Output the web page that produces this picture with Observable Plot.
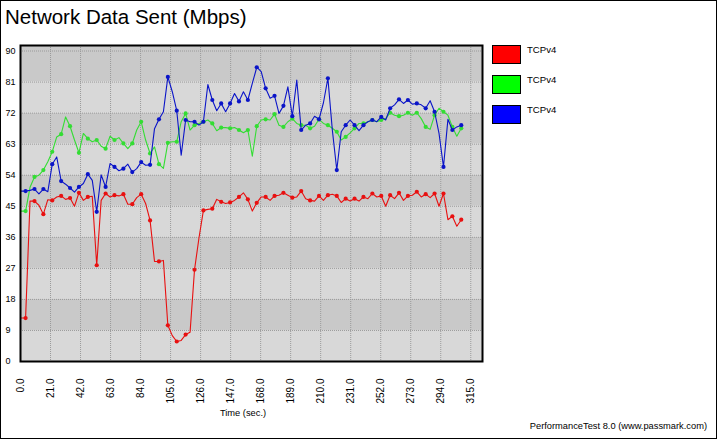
<!DOCTYPE html>
<html>
<head>
<meta charset="utf-8">
<script src="https://cdn.jsdelivr.net/npm/d3@7"></script>
<script src="https://cdn.jsdelivr.net/npm/@observablehq/plot@0.6"></script>
<style>
  html, body { margin: 0; padding: 0; background: #fff; }
  #chart { position: relative; width: 717px; height: 439px; overflow: hidden;
           font-family: "Liberation Sans", Arial, sans-serif; color: #000; background: #fff; }
  #chart svg { position: absolute; left: 0; top: 0; }
  .abs { position: absolute; white-space: nowrap; }
  #title { left: 5px; top: 7px; font-size: 20.5px; line-height: 20px; }
  #xlabel { left: 243px; top: 408px; font-size: 9.3px; line-height: 10px; transform: translateX(-50%); }
  #caption { right: 10px; top: 421px; font-size: 9.3px; line-height: 10px; }
  .swatch { position: absolute; left: 492px; width: 27px; height: 17px; border: 1px solid #000; }
  .legtext { position: absolute; left: 527px; font-size: 9.6px; line-height: 10px; }
  #border { position: absolute; left: 0; top: 0; width: 717px; height: 439px; box-sizing: border-box;
            border: 1px solid #000; pointer-events: none; }
</style>
</head>
<body>
<div id="chart"></div>
<script>
// ---- data ----
const titleText = "Network Data Sent (Mbps)";
const xLabelText = "Time (sec.)";
const captionText = "PerformanceTest 8.0 (www.passmark.com)";
const seriesNames = ["TCPv4", "TCPv4", "TCPv4"];
const legendColors = ["#ff0000", "#00ff00", "#0000ff"];
const lineColors = ["#e81010", "#33dd33", "#0a14c8"];

const xTicks = [0, 21, 42, 63, 84, 105, 126, 147, 168, 189, 210, 231, 252, 273, 294, 315];
const yTicks = [0, 9, 18, 27, 36, 45, 54, 63, 72, 81, 90];
const xMax = 323.2;
const yMax = 91.6;

// samples taken at a regular interval (seconds)
const sampleStart = 0.45;
const sampleInterval = 3.11;

const redValues = [
  12.6,12.6,46.5,46.5,45.3,42.7,46.9,46.7,47.7,48.0,
  47.0,47.4,45.0,48.9,46.7,47.7,47.9,27.9,46.7,48.7,
  47.7,48.2,48.0,48.5,45.6,45.6,47.5,48.5,45.8,40.9,
  29.0,29.0,29.3,10.5,7.5,5.8,6.1,7.8,8.5,26.6,
  35.8,43.8,44.1,44.3,47.0,46.3,45.8,46.1,46.7,47.7,
  48.9,47.0,43.6,46.0,47.7,47.7,46.7,48.0,48.2,48.9,
  48.2,47.5,47.7,49.4,47.2,46.7,46.5,48.0,46.7,48.2,
  48.5,48.0,46.1,47.2,46.5,47.2,46.5,47.7,47.2,48.7,
  47.7,48.0,45.0,48.2,47.2,48.9,46.7,48.0,48.2,49.2,
  47.7,48.5,47.5,48.7,45.0,48.7,41.1,42.1,39.2,41.1
];
const greenValues = [
  43.6,43.6,50.5,53.5,54.0,55.5,57.9,60.8,65.1,65.9,
  70.9,68.2,64.2,60.5,66.1,64.6,63.7,64.2,62.4,61.7,
  65.3,64.2,64.9,63.2,61.7,63.2,67.1,69.5,64.2,60.3,
  62.2,57.2,56.0,63.4,63.7,63.7,69.5,71.9,67.1,68.5,
  69.0,69.5,70.0,69.0,66.9,67.8,67.8,67.6,67.8,67.1,
  66.3,67.1,59.5,68.2,70.0,70.2,70.0,71.7,68.5,68.0,
  69.5,70.4,69.0,68.5,68.5,67.6,68.2,70.2,69.0,68.5,
  67.6,66.6,64.2,65.1,66.3,67.6,69.0,69.0,69.5,70.0,
  69.5,70.0,70.4,72.1,71.4,71.1,71.4,72.1,71.4,72.1,
  70.4,68.0,67.3,71.4,73.4,72.4,71.4,68.0,65.3,67.6
];
const blueValues = [
  49.4,49.4,49.6,50.0,48.6,50.0,49.2,57.2,59.3,52.3,
  51.4,50.3,49.1,50.6,51.6,54.3,52.5,43.4,54.1,50.6,
  57.4,56.4,55.3,55.9,57.2,54.9,55.9,57.8,56.9,57.0,
  67.5,70.2,72.4,82.5,78.2,72.7,59.8,70.0,69.5,69.5,
  68.5,69.5,80.3,75.8,72.7,74.8,72.4,74.8,77.7,75.4,
  78.2,75.8,80.6,85.3,84.0,79.2,76.3,77.0,71.9,74.1,
  79.6,71.1,81.6,67.1,68.5,69.0,71.1,70.2,75.0,82.1,
  67.1,55.5,66.6,68.5,70.0,68.5,66.9,68.5,69.5,70.0,
  69.5,70.9,70.0,73.4,74.4,76.0,74.8,75.8,74.6,74.8,
  74.4,73.4,75.6,72.4,66.1,56.4,70.2,67.1,68.0,68.5
];

// ---- build ----
const toRows = vals => vals.map((v, i) => ({t: sampleStart + i * sampleInterval, v, i}));
const series = [redValues, greenValues, blueValues].map(toRows);

const bandEdges = [...yTicks.slice(0, -1), yTicks[yTicks.length - 1] - 9 + 9]; // 0..81 starts
const bands = yTicks.slice(0, 10).map((y, k) => ({y1: y, y2: k === 9 ? yMax : yTicks[k + 1], dark: k % 2 === 1}));
const darkFill = "#c9c9c9";
const lightFill = "#d8d8d8";

const fontFamily = '"Liberation Sans", Arial, sans-serif';

const lineMarks = [];
series.forEach((rows, s) => {
  lineMarks.push(Plot.line(rows, {x: "t", y: "v", stroke: lineColors[s], strokeWidth: 1.1}));
  lineMarks.push(Plot.dot(rows.filter(d => d.i % 2 === 1), {x: "t", y: "v", r: 2.1, fill: lineColors[s], stroke: "none"}));
});

const chart = Plot.plot({
  width: 717,
  height: 439,
  marginLeft: 20,
  marginTop: 45,
  marginRight: 235,
  marginBottom: 78,
  style: {fontFamily, fontSize: "9px", color: "#000", background: "transparent", overflow: "visible"},
  x: {domain: [0, xMax]},
  y: {domain: [0, yMax]},
  marks: [
    Plot.rect(bands.filter(d => !d.dark), {x1: () => 0, x2: () => xMax, y1: "y1", y2: "y2", fill: lightFill}),
    Plot.rect(bands.filter(d => d.dark), {x1: () => 0, x2: () => xMax, y1: "y1", y2: "y2", fill: darkFill}),
    Plot.gridY(yTicks, {stroke: "#9a9a9a", strokeOpacity: 1, strokeDasharray: "1,1"}),
    Plot.gridX(xTicks, {stroke: "#9a9a9a", strokeOpacity: 1, strokeDasharray: "1,1"}),
    ...lineMarks,
    Plot.frame({stroke: "#000", strokeWidth: 2}),
    Plot.axisY(yTicks, {tickSize: 0, tickPadding: 15, textAnchor: "start", fontSize: 9, label: null, fill: "#000"}),
    Plot.axisX(xTicks, {tickSize: 0, tickPadding: 17, tickRotate: -90, fontSize: 10, label: null,
                        tickFormat: d => d.toFixed(1), fill: "#000"})
  ]
});

const root = document.getElementById("chart");
root.appendChild(chart);

function addDiv(cls, id, text, style) {
  const el = document.createElement("div");
  if (cls) el.className = cls;
  if (id) el.id = id;
  if (text != null) el.textContent = text;
  if (style) Object.assign(el.style, style);
  root.appendChild(el);
  return el;
}
addDiv("abs", "title", titleText);
addDiv("abs", "xlabel", xLabelText);
addDiv("abs", "caption", captionText);
seriesNames.forEach((name, k) => {
  addDiv("swatch", null, null, {top: (45 + 30 * k) + "px", background: legendColors[k]});
  addDiv("legtext", null, name, {top: (45 + 30 * k) + "px"});
});
addDiv(null, "border", null);
</script>
</body>
</html>
